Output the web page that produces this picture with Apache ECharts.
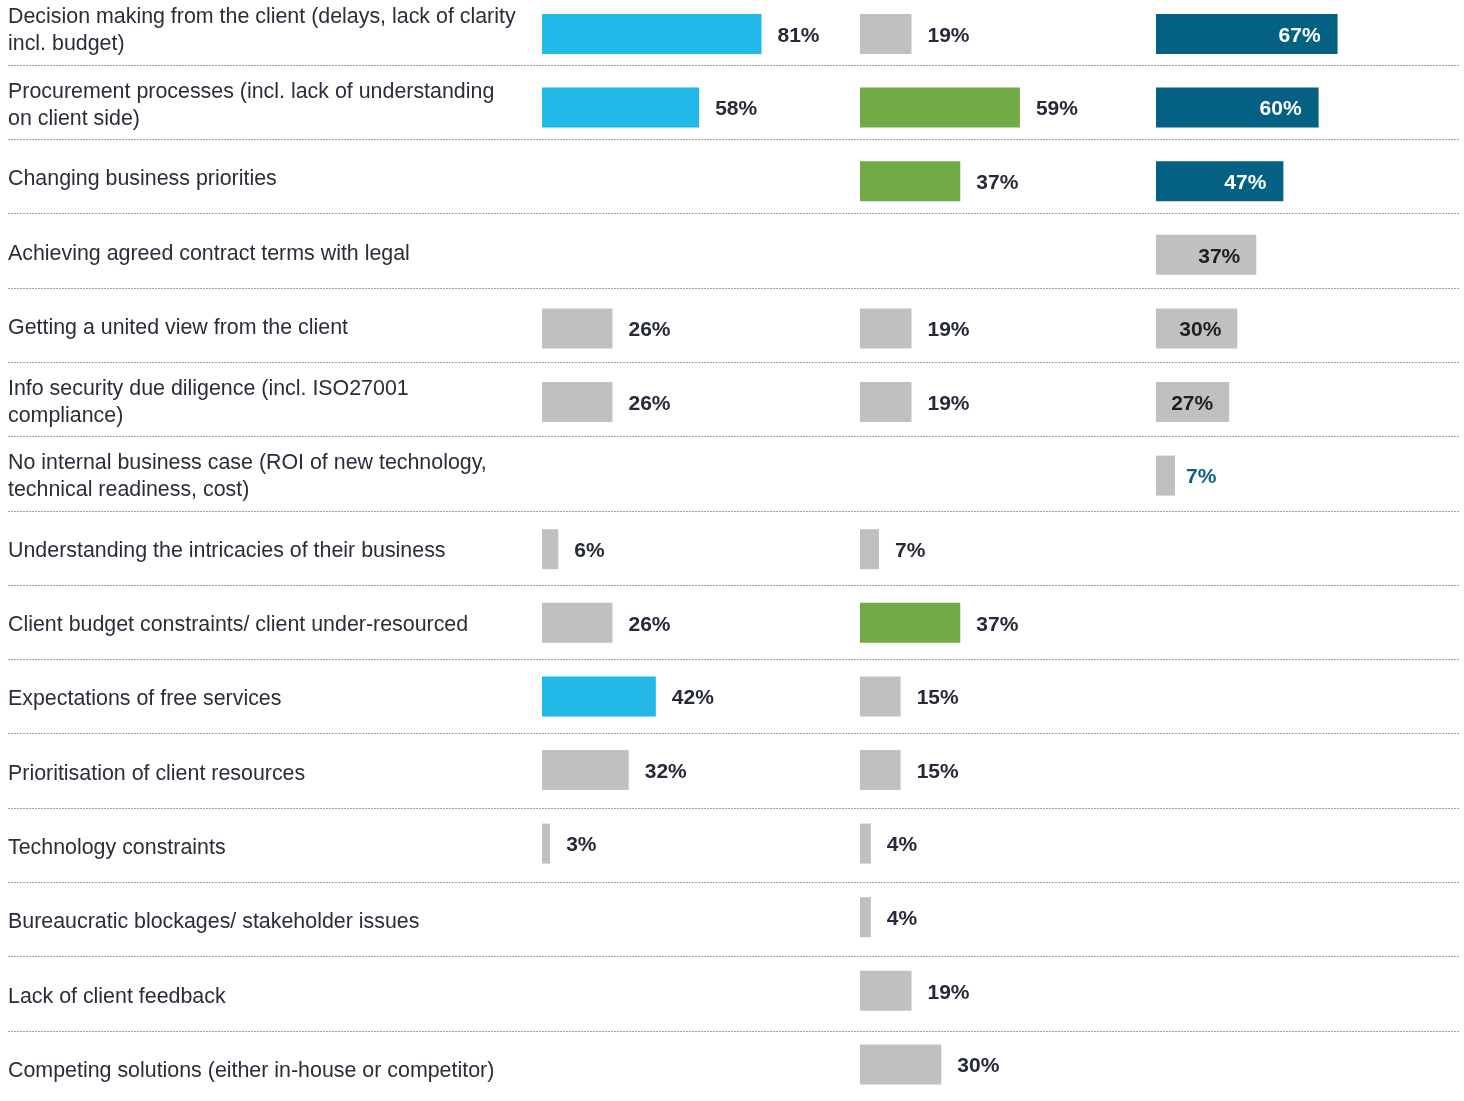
<!DOCTYPE html>
<html><head><meta charset="utf-8">
<script src="https://cdn.jsdelivr.net/npm/echarts@6/dist/echarts.min.js"></script>
<style>html,body{margin:0;padding:0;background:#fff}#c{width:1464px;height:1101px}</style>
</head><body><div id="c"></div>
<script>
const categories = [
  "Decision making from the client (delays, lack of clarity\nincl. budget)",
  "Procurement processes (incl. lack of understanding\non client side)",
  "Changing business priorities",
  "Achieving agreed contract terms with legal",
  "Getting a united view from the client",
  "Info security due diligence (incl. ISO27001\ncompliance)",
  "No internal business case (ROI of new technology,\ntechnical readiness, cost)",
  "Understanding the intricacies of their business",
  "Client budget constraints/ client under-resourced",
  "Expectations of free services",
  "Prioritisation of client resources",
  "Technology constraints",
  "Bureaucratic blockages/ stakeholder issues",
  "Lack of client feedback",
  "Competing solutions (either in-house or competitor)"
];
const col1Values = [81, 58, null, null, 26, 26, null, 6, 26, 42, 32, 3, null, null, null];
const col2Values = [19, 59, 37, null, 19, 19, null, 7, 37, 15, 15, 4, 4, 19, 30];
const col3Values = [67, 60, 47, 37, 30, 27, 7, null, null, null, null, null, null, null, null];
const col1Highlight = [true, true, false, false, false, false, false, false, false, true, false, false, false, false, false];
const col2Highlight = [false, true, true, false, false, false, false, false, true, false, false, false, false, false, false];
const col3Highlight = [true, true, true, false, false, false, false, false, false, false, false, false, false, false, false];

const FONT = '"Liberation Sans", Arial, sans-serif';
const GREY = '#c0c0c0';
const DARK = '#262a3a';

function buildData(values, highlight, hiColor, insideLabels) {
  return values.map((v, i) => {
    if (v === null) return null;
    const hi = highlight[i];
    const item = { value: v, itemStyle: { color: hi ? hiColor : GREY } };
    if (insideLabels) {
      if (hi) {
        item.label = { position: 'insideRight', distance: 17, color: '#ffffff' };
      } else if (v >= 20) {
        item.label = { position: 'insideRight', distance: 16, color: '#1f1f1f' };
      } else {
        item.label = { position: 'right', distance: 11, color: '#0b6189' };
      }
    }
    return item;
  });
}

const chart = echarts.init(document.getElementById('c'), null, { renderer: 'canvas' });
const rowPitchLines = 74.3;
const rowPitchBars = 73.6;
const barGrids = [542, 860, 1156];

const grids = [
  { left: 8, width: 1451, top: 65 - rowPitchLines, height: rowPitchLines * 15, outerBoundsMode: 'none', containLabel: false },
  { left: 8, width: 1451, top: 65 - rowPitchLines + 3, height: rowPitchLines * 15, outerBoundsMode: 'none', containLabel: false }
];
barGrids.forEach(l => grids.push({ left: l, width: 271, top: 34 - rowPitchBars / 2, height: rowPitchBars * 15, outerBoundsMode: 'none', containLabel: false }));

const xAxes = grids.map((g, i) => ({
  type: 'value', gridIndex: i, min: 0, max: 100, show: false
}));
const yAxes = [
  {
    type: 'category', gridIndex: 0, data: categories, inverse: true,
    axisLine: { show: false }, axisTick: { show: false }, axisLabel: { show: false },
    splitLine: { show: true, lineStyle: { color: '#a0a0a0', width: 1, type: [2, 1] } }
  },
  {
    type: 'category', gridIndex: 1, data: categories, inverse: true,
    axisLine: { show: false }, axisTick: { show: false }, splitLine: { show: false },
    axisLabel: {
      inside: true, margin: 0, align: 'left',
      fontFamily: FONT, fontSize: 21.4, color: '#2a2d3a', lineHeight: 27
    }
  }
];
for (let i = 2; i <= 4; i++) {
  yAxes.push({ type: 'category', gridIndex: i, data: categories, inverse: true, show: false });
}

const labelBase = {
  show: true, position: 'right', distance: 16, offset: [0, 2],
  fontFamily: FONT, fontSize: 21, fontWeight: 'bold', color: DARK,
  formatter: p => p.value + '%'
};

const series = [
  { type: 'bar', xAxisIndex: 2, yAxisIndex: 2, barWidth: 40, data: buildData(col1Values, col1Highlight, '#22b8e8', false), label: labelBase, animation: false },
  { type: 'bar', xAxisIndex: 3, yAxisIndex: 3, barWidth: 40, data: buildData(col2Values, col2Highlight, '#70ab46', false), label: labelBase, animation: false },
  { type: 'bar', xAxisIndex: 4, yAxisIndex: 4, barWidth: 40, data: buildData(col3Values, col3Highlight, '#046184', true), label: labelBase, animation: false }
];

chart.setOption({
  backgroundColor: '#ffffff',
  animation: false,
  grid: grids,
  xAxis: xAxes,
  yAxis: yAxes,
  series: series
});
</script></body></html>
